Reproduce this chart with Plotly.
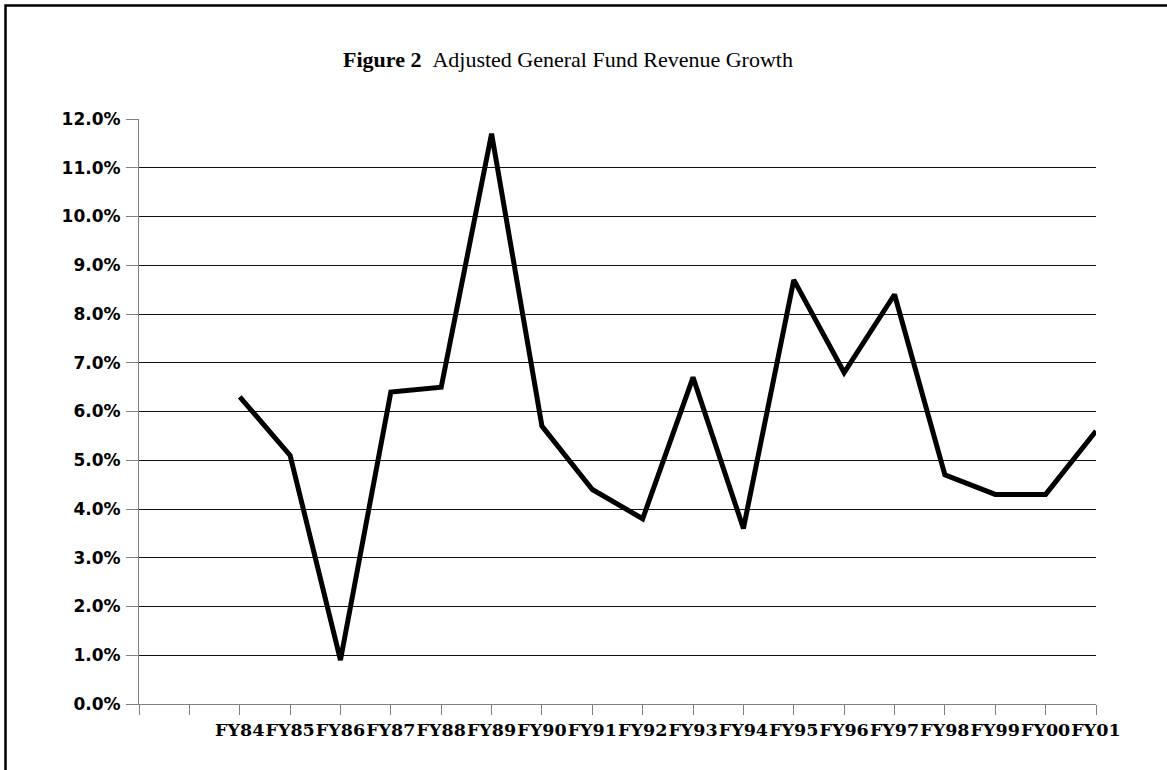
import plotly.graph_objects as go

# Data
placeholders = ["\u2002", "\u2003"]
fiscal_years = ["FY84", "FY85", "FY86", "FY87", "FY88", "FY89", "FY90", "FY91", "FY92",
                "FY93", "FY94", "FY95", "FY96", "FY97", "FY98", "FY99", "FY00", "FY01"]
growth_pct = [6.3, 5.1, 0.9, 6.4, 6.5, 11.7, 5.7, 4.4, 3.8,
              6.7, 3.6, 8.7, 6.8, 8.4, 4.7, 4.3, 4.3, 5.6]
y_ticks = [0, 1, 2, 3, 4, 5, 6, 7, 8, 9, 10, 11, 12]

W, H = 1167, 770
L, R, T, B = 139, 1096, 118.5, 704

def px_x(p):
    return (p - L) / (R - L)

def px_y(p):
    return (B - p) / (B - T)

fig = go.Figure()
fig.add_trace(go.Scatter(
    x=fiscal_years, y=growth_pct, mode="lines",
    line=dict(color="black", width=5),
    hoverinfo="x+y", showlegend=False,
))

fig.update_layout(
    width=W, height=H,
    margin=dict(l=L, r=W - R, t=T, b=H - B, pad=0),
    paper_bgcolor="white", plot_bgcolor="white",
    xaxis=dict(
        type="category",
        categoryorder="array",
        categoryarray=placeholders + fiscal_years,
        range=[0, len(placeholders) + len(fiscal_years) - 1],
        showgrid=False, zeroline=False,
        showline=True, linecolor="#808080", linewidth=1,
        ticks="outside", ticklen=10, tickcolor="#808080", tickwidth=1,
        tickfont=dict(family="DejaVu Serif", size=17.5, color="black", weight="bold"),
        tickangle=0,
    ),
    yaxis=dict(
        range=[0, 12],
        tickvals=y_ticks,
        ticktext=[f"{v:.1f}%" for v in y_ticks],
        showgrid=True, gridcolor="#111111", gridwidth=1,
        zeroline=False,
        showline=True, linecolor="#808080", linewidth=1,
        ticks="outside", ticklen=12, tickcolor="#808080", tickwidth=1,
        ticklabelstandoff=2,
        tickfont=dict(family="DejaVu Sans", size=17, color="black", weight="bold"),
    ),
    shapes=[
        dict(type="rect", xref="paper", yref="paper",
             x0=px_x(5.5), x1=px_x(1200), y0=px_y(800), y1=px_y(5),
             line=dict(color="black", width=2.5), fillcolor="rgba(0,0,0,0)", layer="above"),
    ],
    annotations=[
        dict(xref="paper", yref="paper", x=px_x(567.5), y=px_y(59),
             xanchor="center", yanchor="middle", showarrow=False,
             text="<b>Figure 2</b>\u00a0\u00a0Adjusted General Fund Revenue Growth",
             font=dict(family="Liberation Serif", size=22, color="black")),
    ],
)

fig.write_html("out.html")
